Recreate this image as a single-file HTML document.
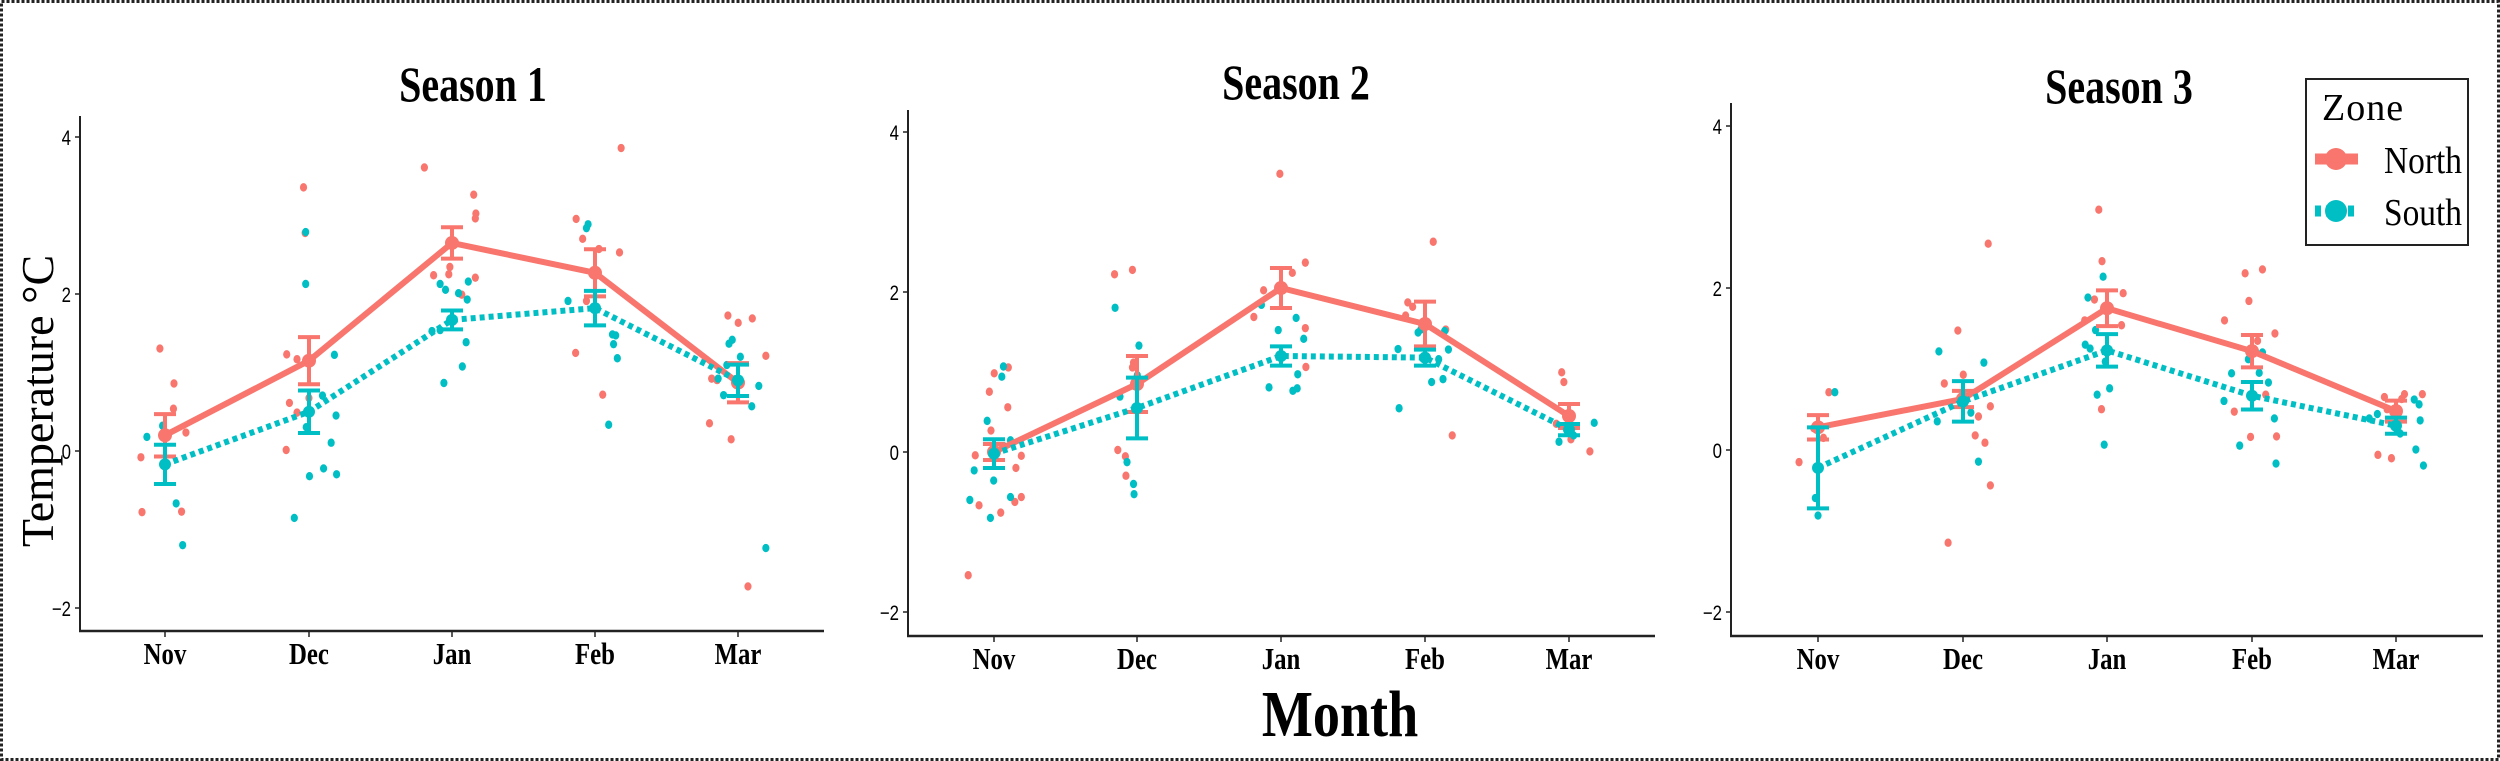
<!DOCTYPE html>
<html><head><meta charset="utf-8"><style>
html,body{margin:0;padding:0;background:#fff;}
svg{display:block;}
</style></head><body>
<svg id="s" width="2500" height="761" viewBox="0 0 2500 761" xmlns="http://www.w3.org/2000/svg">
<rect x="1.5" y="1.5" width="2497" height="758" fill="#fff" stroke="#222" stroke-width="3" stroke-dasharray="3,2"/>
<text x="1340" y="736" font-family="Liberation Serif, serif" font-weight="bold" font-size="66" text-anchor="middle" transform="translate(1340 736) scale(0.82 1) translate(-1340 -736)">Month</text>
<text x="0" y="0" font-family="Liberation Serif, serif" font-size="46" text-anchor="middle" transform="translate(53 401) rotate(-90)">Temperature °C</text>
<g id="legend">
<rect x="2306" y="79" width="162" height="166" fill="#fff" stroke="#222" stroke-width="2"/>
<text x="2322" y="120" font-family="Liberation Serif, serif" font-size="38" letter-spacing="1">Zone</text>
<line x1="2315" y1="159" x2="2358" y2="159" stroke="#F8766D" stroke-width="11"/>
<circle cx="2336" cy="159" r="11" fill="#F8766D"/>
<text x="2384" y="173" font-family="Liberation Serif, serif" font-size="38" transform="translate(2384 173) scale(0.88 1) translate(-2384 -173)">North</text>
<line x1="2315" y1="211" x2="2358" y2="211" stroke="#00BFC4" stroke-width="11" stroke-dasharray="6,5"/>
<circle cx="2336" cy="211" r="11" fill="#00BFC4"/>
<text x="2384" y="225" font-family="Liberation Serif, serif" font-size="38" transform="translate(2384 225) scale(0.88 1) translate(-2384 -225)">South</text>
</g>
</svg>
<script>
const NS="http://www.w3.org/2000/svg";
const svg=document.getElementById('s');
const legend=document.getElementById('legend');
function el(t,a,txt){const e=document.createElementNS(NS,t);for(const k in a)e.setAttribute(k,a[k]);if(txt!==undefined)e.textContent=txt;svg.insertBefore(e,legend);return e;}
const R="#F8766D",T="#00BFC4";
const panels=[
{ax:80,top:116,bot:631,xend:824,y0:451,u:78.5,cats:[165,309,452,595,738],title:"Season 1",tx:473,ty:101,off:0,
 nm:[0.2,1.15,2.65,2.27,0.87],ne:[0.27,0.3,0.2,0.3,0.25],sm:[-0.17,0.5,1.67,1.82,0.9],se:[0.25,0.27,0.12,0.22,0.2],
 rp:[[295,718],[321,790],[320,842],[343,891],[260,942],[262,1055],[335,1054],[560,386],[563,480],[529,730],[548,740],[534,830],[548,850],[528,927],[570,820],[783,345],[874,401],[878,440],[877,450],[800,567],[830,550],[828,565],[877,572],[852,607],[1146,305],[1063,451],[1075,492],[1105,513],[1143,520],[1062,727],[1082,620],[1112,813],[1343,650],[1362,665],[1388,656],[1413,733],[1309,872],[1323,783],[1313,780],[1349,905],[1380,1208]],
 tp:[[271,900],[300,877],[325,1037],[337,1123],[564,478],[564,585],[617,731],[595,815],[620,856],[611,912],[597,965],[621,977],[571,981],[543,1067],[565,880],[812,585],[822,597],[846,604],[864,580],[862,617],[797,682],[812,680],[860,705],[853,755],[819,789],[1048,620],[1085,462],[1082,470],[1130,689],[1136,691],[1132,709],[1139,738],[1123,875],[1345,708],[1351,700],[1366,735],[1341,752],[1335,814],[1325,780],[1400,795],[1387,837],[1413,1129]]},
{ax:908,top:110,bot:636,xend:1655,y0:452,u:80,cats:[994,1137,1281,1425,1569],title:"Season 2",tx:1296,ty:99,off:830,
 nm:[0.0,0.85,2.05,1.6,0.45],ne:[0.1,0.35,0.25,0.28,0.15],sm:[-0.02,0.55,1.2,1.18,0.28],se:[0.18,0.38,0.12,0.1,0.07],
 rp:[[255,1185],[303,769],[329,757],[294,807],[328,839],[297,887],[268,938],[275,1041],[315,1056],[341,1034],[353,1024],[343,964],[353,939],[525,565],[558,556],[558,757],[560,747],[531,927],[545,940],[546,980],[830,358],[877,541],[853,562],[800,598],[782,653],[877,676],[878,756],[1113,498],[1066,623],[1075,632],[1062,650],[1136,679],[1148,897],[1350,767],[1354,787],[1340,873],[1367,905],[1402,930]],
 tp:[[320,755],[317,776],[290,867],[266,969],[258,1030],[302,990],[296,1067],[333,1024],[333,907],[322,920],[526,634],[570,712],[535,817],[567,773],[548,952],[560,997],[561,1018],[796,628],[827,680],[860,655],[874,698],[863,771],[810,798],[854,805],[862,800],[1048,719],[1050,841],[1085,685],[1090,679],[1141,720],[1134,682],[1123,740],[1110,787],[1131,781],[1410,871],[1345,910],[1372,897]]},
{ax:1731,top:103,bot:636,xend:2483,y0:450,u:81,cats:[1818,1963,2107,2252,2396],title:"Season 3",tx:2119,ty:103,off:1650,
 nm:[0.28,0.63,1.75,1.22,0.48],ne:[0.15,0.1,0.22,0.2,0.13],sm:[-0.22,0.6,1.23,0.67,0.3],se:[0.5,0.25,0.2,0.17,0.1],
 rp:[[275,952],[330,808],[302,882],[320,902],[568,681],[543,790],[578,772],[606,858],[600,897],[618,912],[628,837],[628,1000],[550,1118],[624,502],[828,432],[834,538],[820,617],[873,604],[802,660],[870,670],[833,843],[1098,563],[1130,555],[1105,620],[1060,660],[1121,702],[1153,687],[1136,813],[1078,848],[1108,900],[1156,899],[1355,818],[1392,812],[1425,812],[1360,843],[1387,822],[1343,937],[1368,944]],
 tp:[[341,808],[305,1026],[310,1062],[533,724],[616,747],[530,868],[592,850],[606,951],[836,570],[808,613],[822,680],[803,710],[812,718],[840,745],[848,800],[825,813],[838,916],[1073,769],[1130,726],[1124,768],[1104,740],[1141,788],[1059,826],[1152,862],[1088,918],[1155,955],[1410,823],[1419,833],[1421,866],[1342,853],[1327,862],[1384,893],[1413,926],[1427,959]]}
];
const months=["Nov","Dec","Jan","Feb","Mar"];
panels.forEach(p=>{
 const Y=v=>p.y0-v*p.u;
 el('text',{x:p.tx,y:p.ty,'font-family':'Liberation Serif, serif','font-weight':'bold','font-size':'50','text-anchor':'middle',transform:`translate(${p.tx} ${p.ty}) scale(0.8 1) translate(${-p.tx} ${-p.ty})`},p.title);
 el('line',{x1:p.ax,y1:p.top,x2:p.ax,y2:p.bot,stroke:'#222','stroke-width':2});
 el('line',{x1:p.ax-1,y1:p.bot,x2:p.xend,y2:p.bot,stroke:'#222','stroke-width':2.5});
 [4,2,0,-2].forEach(v=>{const y=Y(v);el('line',{x1:p.ax-5,y1:y,x2:p.ax,y2:y,stroke:'#222','stroke-width':1.5});
  const lx=p.ax-9;el('text',{x:lx,y:y+8,'font-family':'Liberation Sans, sans-serif','font-size':'21','text-anchor':'end',transform:`translate(${lx} ${y}) scale(0.8 1) translate(${-lx} ${-y})`},v<0?'\u2212'+(-v):''+v);});
 p.cats.forEach((x,i)=>{el('line',{x1:x,y1:p.bot,x2:x,y2:p.bot+6,stroke:'#222','stroke-width':1.5});
  el('text',{x:x,y:p.bot+33,'font-family':'Liberation Serif, serif','font-weight':'bold','font-size':'31','text-anchor':'middle',transform:`translate(${x} ${p.bot}) scale(0.8 1) translate(${-x} ${-p.bot})`},months[i]);});
 p.rp.forEach(([zx,zy])=>el('ellipse',{cx:p.off+zx/1.845,cy:zy/2.06,rx:3.6,ry:4.2,fill:R}));
 p.tp.forEach(([zx,zy])=>el('ellipse',{cx:p.off+zx/1.845,cy:zy/2.06,rx:3.6,ry:4.2,fill:T}));
 const draw=(m,e,c,dash,r,w)=>{
  el('polyline',{points:p.cats.map((x,i)=>x+','+Y(m[i])).join(' '),fill:'none',stroke:c,'stroke-width':w,'stroke-dasharray':dash||'none'});
  p.cats.forEach((x,i)=>{const a=Y(m[i]+e[i]),b=Y(m[i]-e[i]);
   el('line',{x1:x,y1:a,x2:x,y2:b,stroke:c,'stroke-width':4});
   el('line',{x1:x-11,y1:a,x2:x+11,y2:a,stroke:c,'stroke-width':4});
   el('line',{x1:x-11,y1:b,x2:x+11,y2:b,stroke:c,'stroke-width':4});
   el('circle',{cx:x,cy:Y(m[i]),r:r,fill:c});});
 };
 draw(p.nm,p.ne,R,null,7,6);
 draw(p.sm,p.se,T,'5,4',6,6);
});
</script>
</body></html>
